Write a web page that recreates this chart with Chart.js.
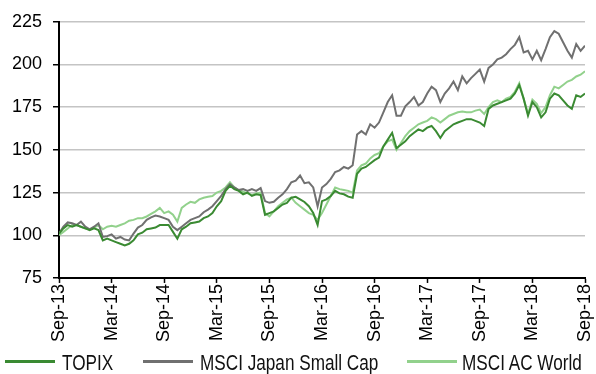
<!DOCTYPE html>
<html>
<head>
<meta charset="utf-8">
<script src="https://cdn.jsdelivr.net/npm/chart.js@4/dist/chart.umd.min.js"></script>
<style>
  html, body { margin: 0; padding: 0; background: #fff; }
  #wrap { position: relative; width: 596px; height: 374px; }
  #c { position: absolute; left: 0; top: 0; }
  .sw { position: absolute; height: 3px; top: 360px; width: 50px; }
  .lt { position: absolute; top: 352px; font-family: "Liberation Sans", Arial, sans-serif; font-size: 22px; line-height: 22px; color: #111; white-space: nowrap; transform: scaleX(0.78); transform-origin: 0 0; }
</style>
</head>
<body>
<div id="wrap">
  <canvas id="c" width="596" height="374"></canvas>
  <div id="legend"></div>
</div>
<script>
// Tick labels (every 6 months, semi-monthly observations between them)
const tickLabels = ['Sep-13','Mar-14','Sep-14','Mar-15','Sep-15','Mar-16','Sep-16','Mar-17','Sep-17','Mar-18','Sep-18'];
const seriesNames = ['TOPIX', 'MSCI Japan Small Cap', 'MSCI AC World'];

// Semi-monthly index levels, Sep-13 = 100 (121 observations)
const topix = [
  101,104,106,105,106,105,104,103,104,103,
  97,98,97,96,95,94,95,97,100.5,101.5,
  103.5,104,104.5,106,106,106,102,98,103.5,105,
  107,107.5,108,110,111,113,117,120,126,129,
  127,126,124,125,123,124,123.5,112,113,114,
  116,118,119,122,122.5,121,119.5,117,113,106,
  120,121,123,126,124.5,124,122.6,122,136,139,
  140,142,144,145.5,152,156,160,151,153,155,
  158,160,162,161,163,164,161,157,161,163,
  165,166,167,168,168,167,166,164,174,176,
  177,178,179,180,183,188,180,170,178,175,
  169,172,180,183,182,179,176,174,182,181,
  183
];
const smallCap = [
  101,105,107.5,107,106,108,105,103.5,105,107,
  99,99.5,100.5,98,99,97.5,97,101,104.5,106,
  109,110.5,111.5,111,110,109,105,103,105,107,
  109,110,111,113.5,115,117,120,123,127,130,
  128,126.5,127,126,127,126,127.6,120,119,119.6,
  122,124,127,131,132,135,130.5,131,128,117,
  128,130,133,137,138,140,139,141,159,161,
  159,165,163,166,172,178,182,170,170,175.5,
  178,181,176,178,183,187,185,178,183,186,
  190,185,193,189,192,194.5,197,190,198,200,
  203,204,206,209,211.5,216,207,208,203,208,
  202.5,209,216,219.5,218,213,208,204,212,208,
  211
];
const acWorld = [
  100,102,104,106,106,105,104,103.5,104.5,106,
  103.5,105,105.5,105,106,107,108.5,109,110,110,
  111,112.5,114,116,113,114,112,108,116,118,
  119.6,119,121,122,122.5,123,125,126,128,131,
  128,126.5,125.5,124.5,123.6,124.5,125,113,111,114,
  117,119,121,122,119,117,115,113,112,109,
  113,118,123,128,127,126.5,126,125,138,141,
  142,145,147,148,152,155,156,150,154,158,
  161,163,165,166,167,169,168,166,168,170,
  171,172,172.5,172,172,173,173.6,171,175,178,
  179,178,180,181,184,189,180,171,179.5,177,
  171.5,175,182,187,186,188,190,191,193,194,
  196
];
const yTicks = [75, 100, 125, 150, 175, 200, 225];
const colors = ['#3a8a32', '#707070', '#92d18c'];

const pts = arr => arr.map((v, i) => ({ x: i, y: v }));
const font = { family: '"Liberation Sans", Arial, sans-serif', size: 18 };

new Chart(document.getElementById('c'), {
  type: 'line',
  data: {
    datasets: [
      { label: seriesNames[0], data: pts(topix), borderColor: colors[0], borderWidth: 2, pointRadius: 0, tension: 0 },
      { label: seriesNames[1], data: pts(smallCap), borderColor: colors[1], borderWidth: 2, pointRadius: 0, tension: 0 },
      { label: seriesNames[2], data: pts(acWorld), borderColor: colors[2], borderWidth: 2, pointRadius: 0, tension: 0 }
    ]
  },
  options: {
    responsive: false,
    animation: false,
    events: [],
    layout: { padding: { left: 13, right: 11, top: 19, bottom: 31 } },
    plugins: { legend: { display: false }, tooltip: { enabled: false } },
    scales: {
      x: {
        type: 'linear',
        min: 0,
        max: (tickLabels.length - 1) * 12,
        afterBuildTicks: s => { s.ticks = tickLabels.map((_, i) => ({ value: i * 12 })); },
        afterFit: s => { s.paddingLeft = 0; s.paddingRight = 0; },
        ticks: {
          autoSkip: false,
          maxRotation: 90,
          minRotation: 90,
          padding: 1,
          color: '#000',
          font: font,
          callback: v => tickLabels[Math.round(v / 12)]
        },
        grid: { drawOnChartArea: false, tickLength: 5, tickColor: '#000', tickWidth: 1.5 },
        border: { color: '#000', width: 2 }
      },
      y: {
        min: 75,
        max: 225,
        afterBuildTicks: s => { s.ticks = yTicks.map(v => ({ value: v })); },
        afterFit: s => { s.width = 46; },
        ticks: { color: '#000', font: font, padding: 11 },
        grid: { color: '#c4c4c4', lineWidth: 1.5, tickLength: 6, tickColor: '#000', tickWidth: 1.5 },
        border: { color: '#000', width: 2 }
      }
    }
  }
});

// HTML legend
const legend = document.getElementById('legend');
const swLeft = [5, 143, 407];
const txLeft = [62, 200, 462];
seriesNames.forEach((n, i) => {
  const s = document.createElement('div');
  s.className = 'sw';
  s.style.left = swLeft[i] + 'px';
  s.style.background = colors[i];
  legend.appendChild(s);
  const t = document.createElement('div');
  t.className = 'lt';
  t.style.left = txLeft[i] + 'px';
  t.textContent = n;
  legend.appendChild(t);
});
</script>
</body>
</html>
